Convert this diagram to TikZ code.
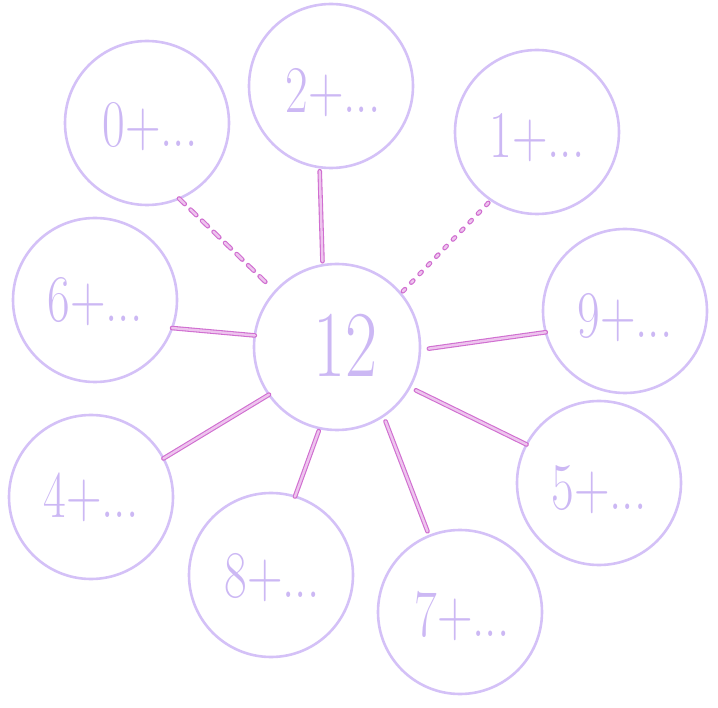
\documentclass[tikz,border=0pt]{standalone}
\usepackage{fontspec}
\definecolor{ringc}{RGB}{212,193,247}
\definecolor{textc}{RGB}{204,184,244}
\definecolor{linec}{RGB}{208,110,208}
\definecolor{linein}{RGB}{238,196,238}
\tikzset{
  ring/.style={circle, draw=ringc, line width=2.6pt, minimum size=164pt, inner sep=0pt, outer sep=0pt},
  bigring/.style={ring, minimum size=166pt},
  lbl/.style={text=textc, font=\fontsize{58}{58}\selectfont},
  biglbl/.style={text=textc, font=\fontsize{82}{82}\selectfont},
  conn/.style={draw=linec, line width=1.1pt, double=linein, double distance=2.4pt, line cap=round},
  dashconn/.style={conn, dash pattern=on 8pt off 8pt},
  dotconn/.style={conn, dash pattern=on 3pt off 9pt}
}
\newcommand{\lab}[1]{\scalebox{0.85}[1.15]{#1}}
\begin{document}
\begin{tikzpicture}[x=1pt,y=-1pt]
\useasboundingbox (0,0) rectangle (718,708);
% circles
\node[bigring] (c)  at (337,347) {};
\node[ring] (n0) at (147,123) {};
\node[ring] (n2) at (331,86) {};
\node[ring] (n1) at (537,132) {};
\node[ring] (n9) at (625,311) {};
\node[ring] (n5) at (599,483) {};
\node[ring] (n7) at (460,612) {};
\node[ring] (n8) at (271,575) {};
\node[ring] (n4) at (91,497) {};
\node[ring] (n6) at (95,300) {};
% labels
\node[biglbl] (t12) at (345,345) {\lab{12}};
\node[lbl] (t0) at (150,127) {\lab{0+...}};
\node[lbl] (t2) at (333,93) {\lab{2+...}};
\node[lbl] (t1) at (537,138) {\lab{1+...}};
\node[lbl] (t9) at (625,318) {\lab{9+...}};
\node[lbl] (t5) at (599,490) {\lab{5+...}};
\node[lbl] (t7) at (462,616) {\lab{7+...}};
\node[lbl] (t8) at (272,578) {\lab{8+...}};
\node[lbl] (t4) at (91,497) {\lab{4+...}};
\node[lbl] (t6) at (95,302) {\lab{6+...}};
% connectors
\draw[dashconn, shorten >=11pt] (n0.-67) -- (c.138);
\draw[conn, shorten <=4pt, shorten >=4pt] (n2.-98) -- (c.100);
\draw[dotconn, shorten <=4pt, shorten >=3pt] (n1.-124) -- (c.40);
\draw[conn, shorten >=9pt] (n9.195) -- (c.-2);
\draw[conn, shorten >=7pt] (n5.152) -- (c.-29);
\draw[conn, shorten <=6pt, shorten >=5pt] (c.-56) -- (n7.112);
\draw[conn, shorten <=3pt] (c.-102) -- (n8.73);
\draw[conn] (c.215) -- (n4.28);
\draw[conn] (n6.-20) -- (c.172);
\end{tikzpicture}
\end{document}
